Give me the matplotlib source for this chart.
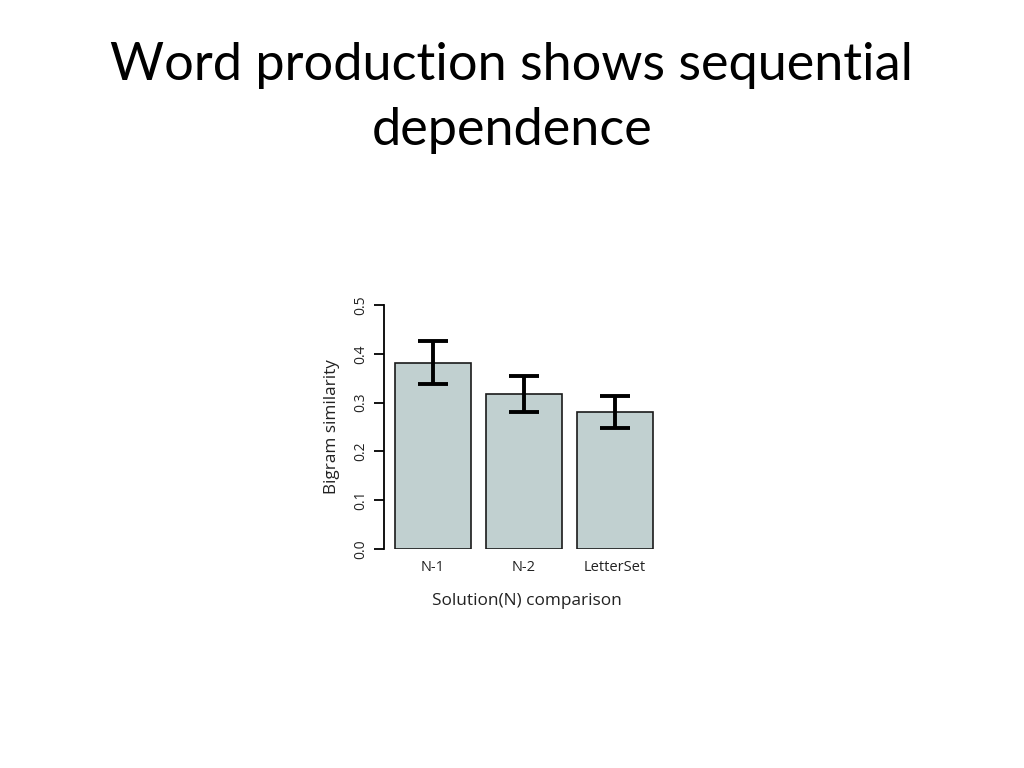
import matplotlib
matplotlib.use("Agg")
import matplotlib.pyplot as plt

categories = ["N-1", "N-2", "LetterSet"]
similarity = [0.381, 0.318, 0.281]
err_upper = [0.426, 0.355, 0.314]
err_lower = [0.338, 0.281, 0.248]
yticks = [0.0, 0.1, 0.2, 0.3, 0.4, 0.5]

W, H = 1024, 768
fig = plt.figure(figsize=(W / 100, H / 100), dpi=100)

fig.text(512 / W, 1 - 98 / H, "Word production shows sequential\ndependence",
         ha="center", va="center", fontsize=37.6, family="Lato",
         linespacing=1.48, color="black")

# axes placed in pixel coordinates
left, right, bottom, top = 384, 670, 549, 305
ax = fig.add_axes([left / W, 1 - bottom / H, (right - left) / W, (bottom - top) / H])

pos = list(range(len(categories)))
yerr = [[s - lo for s, lo in zip(similarity, err_lower)],
        [hi - s for s, hi in zip(similarity, err_upper)]]
ax.bar(pos, similarity, width=0.835, color="#c1d0d0", edgecolor="#1a1a1a", linewidth=1.2)
ax.errorbar(pos, similarity, yerr=yerr, fmt="none", ecolor="black",
            elinewidth=2.8, capsize=11, capthick=2.8)

ax.set_xlim((left - 433) / 91, (right - 433) / 91)
ax.set_ylim(0, 0.5)
ax.set_yticks(yticks)
ax.set_yticklabels([f"{t:.1f}" for t in yticks], rotation=90, va="center",
                   fontsize=10, color="#222222", family="Open Sans")
ax.set_xticks(pos)
ax.set_xticklabels(categories, fontsize=10.5, color="#222222", family="Open Sans")
ax.tick_params(axis="x", length=0, pad=8)
ax.tick_params(axis="y", length=7, width=1.3, pad=4)

for s in ["top", "right", "bottom"]:
    ax.spines[s].set_visible(False)
ax.spines["left"].set_linewidth(1.3)

ax.set_ylabel("Bigram similarity", fontsize=12.3, color="#222222", family="Open Sans", labelpad=10)
ax.set_xlabel("Solution(N) comparison", fontsize=12.4, color="#222222", family="Open Sans", labelpad=13)

fig.savefig("out.png", dpi=100)
